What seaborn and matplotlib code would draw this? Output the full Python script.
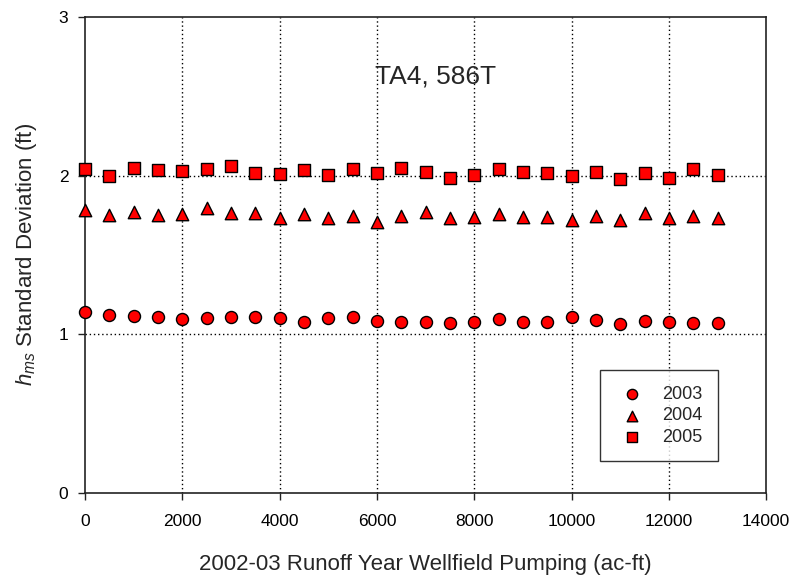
import pandas as pd
import seaborn as sns
import matplotlib.pyplot as plt

# Pumping values (ac-ft) and std deviation per year
pumping = [0, 500, 1000, 1500, 2000, 2500, 3000, 3500, 4000, 4500, 5000, 5500, 6000,
           6500, 7000, 7500, 8000, 8500, 9000, 9500, 10000, 10500, 11000, 11500, 12000,
           12500, 13000]
sd_2003 = [1.14, 1.12, 1.115, 1.11, 1.097, 1.10, 1.11, 1.11, 1.105, 1.076, 1.105, 1.11,
           1.086, 1.08, 1.078, 1.071, 1.08, 1.094, 1.075, 1.078, 1.11, 1.088, 1.067,
           1.084, 1.08, 1.071, 1.069]
sd_2004 = [1.785, 1.752, 1.773, 1.752, 1.758, 1.798, 1.764, 1.764, 1.735, 1.758, 1.733,
           1.747, 1.705, 1.747, 1.769, 1.734, 1.738, 1.755, 1.740, 1.738, 1.719, 1.748,
           1.719, 1.765, 1.732, 1.744, 1.734]
sd_2005 = [2.042, 2.0, 2.048, 2.038, 2.029, 2.044, 2.061, 2.015, 2.008, 2.036, 2.004,
           2.042, 2.019, 2.048, 2.023, 1.985, 2.002, 2.044, 2.025, 2.015, 1.996, 2.025,
           1.979, 2.015, 1.985, 2.040, 2.006]
years = ["2003", "2004", "2005"]
markers = {"2003": "o", "2004": "^", "2005": "s"}
sizes = {"2003": 75, "2004": 80, "2005": 75}

df = pd.DataFrame({
    "pumping": pumping * 3,
    "sd": sd_2003 + sd_2004 + sd_2005,
    "year": [y for y in years for _ in pumping],
})

sns.set_style("ticks")
plt.rcParams["font.family"] = ["Liberation Sans", "DejaVu Sans"]
plt.rcParams["mathtext.fontset"] = "custom"
plt.rcParams["mathtext.rm"] = "Liberation Sans"
plt.rcParams["mathtext.it"] = "Liberation Sans:italic"

fig, ax = plt.subplots(figsize=(7.94, 5.79), dpi=100)
fig.subplots_adjust(left=0.107, right=0.965, top=0.971, bottom=0.1485)

for yr in years:
    sub = df[df["year"] == yr]
    sns.scatterplot(data=sub, x="pumping", y="sd", marker=markers[yr], s=sizes[yr],
                    color="red", edgecolor="black", linewidth=1, label=yr,
                    legend=False, clip_on=False, zorder=3, ax=ax)

ax.set_xlim(0, 14000)
ax.set_ylim(0, 3)
ax.set_xticks(range(0, 14001, 2000))
ax.set_yticks([0, 1, 2, 3])

# dotted grid on interior ticks only
for gx in range(2000, 13000, 2000):
    ax.axvline(gx, color="black", linestyle=(0, (1, 2)), linewidth=1, zorder=1)
for gy in [1, 2]:
    ax.axhline(gy, color="black", linestyle=(0, (1, 2)), linewidth=1, zorder=1)

for sp in ax.spines.values():
    sp.set_visible(True)
    sp.set_color("#222222")
    sp.set_linewidth(1.2)

ax.tick_params(axis="both", direction="out", length=5, width=1, labelsize=12.5,
               colors="#222222", pad=7)
ax.tick_params(axis="x", pad=10)
ax.tick_params(axis="both", labelcolor="black")

ax.set_xlabel("2002-03 Runoff Year Wellfield Pumping (ac-ft)", fontsize=16, labelpad=18)
ax.set_ylabel("$h_{ms}$ Standard Deviation (ft)", fontsize=16, labelpad=14)

ax.text(7200, 2.578, "TA4, 586T", fontsize=19, ha="center", va="baseline")

leg = ax.legend(loc="lower right", bbox_to_anchor=(0.9295, 0.067), frameon=True,
                fancybox=False, shadow=False, fontsize=13, borderpad=0.85,
                handlelength=1.8, handletextpad=0.8, labelspacing=0.25,
                borderaxespad=0, markerscale=0.85)
leg.get_frame().set_edgecolor("black")
leg.get_frame().set_linewidth(1)

plt.savefig("out.png", dpi=100)
plt.close()
